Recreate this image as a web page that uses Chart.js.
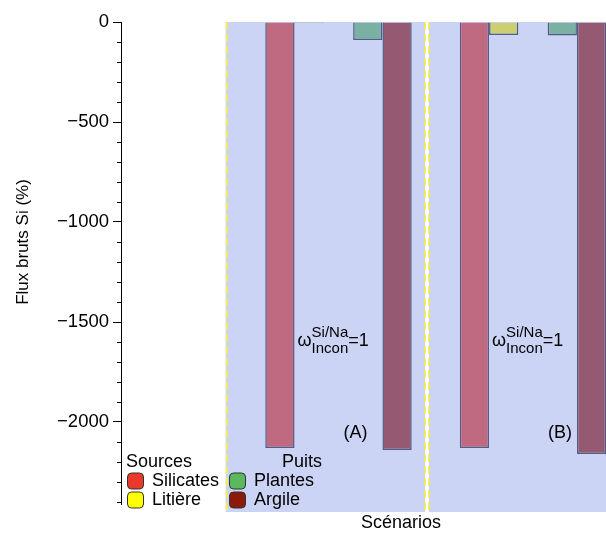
<!DOCTYPE html>
<html>
<head>
<meta charset="utf-8">
<script src="https://cdn.jsdelivr.net/npm/chart.js@4.4.1/dist/chart.umd.min.js"></script>
<style>
  html, body { margin: 0; padding: 0; background: #fff; overflow: hidden; }
  #wrap { width: 681px; height: 538px; }
</style>
</head>
<body>
<div id="wrap"><canvas id="myChart" width="681" height="538"></canvas></div>
<script>
// Flux bruts Si par source, scénarios (A) et (B)
const scenarios = ["(A)", "(B)"];
const scenarioPos = [1, 2];
const silicates = [-2130, -2130];
const litiere = [-5, -65];
const vide = [null, null]; // case vide entre Litière et Plantes
const plantes = [-90, -68];
const argile = [-2140, -2160];
const yLabels = [0, -500, -1000, -1500, -2000];
const yTicks = Array.from({ length: 25 }, (_, i) => -100 * i); // graduations tous les 100
const panelEdges = [0.42, 1.455];

const FONT = "'Liberation Sans', Arial, Helvetica, sans-serif";
const ctx = document.getElementById("myChart").getContext("2d");

const toPoints = (vals) => scenarioPos.map((x, i) => ({ x: x, y: vals[i] }));
const isMajor = (v) => yLabels.some((l) => Math.abs(l - v) < 1e-6);

const bar = (label, vals, color) => ({
  label,
  data: toPoints(vals),
  backgroundColor: color,
  borderColor: "#555c86",
  borderWidth: 1.5,
});

// fonds, lignes pointillées, textes et légende
const decor = {
  id: "decor",
  beforeDatasetsDraw(chart) {
    const c = chart.ctx;
    const x = chart.scales.x;
    const y = chart.scales.y;
    const top = y.getPixelForValue(0);
    const bottom = y.getPixelForValue(-2450);
    const x0 = x.getPixelForValue(panelEdges[0]);
    const x1 = x.getPixelForValue(panelEdges[1]);
    c.save();
    c.fillStyle = "#cbd4f4";
    c.fillRect(x0, top, chart.width - x0, bottom - top);
    // premier séparateur
    c.strokeStyle = "#f2ec5a";
    c.lineWidth = 2;
    c.setLineDash([8, 4]);
    c.beginPath();
    c.moveTo(x0 + 1, top);
    c.lineTo(x0 + 1, bottom);
    c.stroke();
    // second séparateur : blanc + jaune
    c.setLineDash([]);
    c.strokeStyle = "#ffffff";
    c.lineWidth = 4;
    c.beginPath();
    c.moveTo(x1, top);
    c.lineTo(x1, bottom);
    c.stroke();
    c.strokeStyle = "#f2ec3a";
    c.lineWidth = 1.5;
    c.setLineDash([8, 4]);
    [x1 - 2, x1 + 2].forEach((px) => {
      c.beginPath();
      c.moveTo(px, top);
      c.lineTo(px, bottom);
      c.stroke();
    });
    c.restore();
  },
  afterDraw(chart) {
    const c = chart.ctx;
    const x = chart.scales.x;
    const y = chart.scales.y;
    c.save();
    // petites graduations
    c.strokeStyle = "#000";
    c.lineWidth = 1;
    y.ticks.forEach((t) => {
      if (isMajor(t.value)) return;
      const py = Math.round(y.getPixelForValue(t.value)) + 0.5;
      c.beginPath();
      c.moveTo(y.right - 4, py);
      c.lineTo(y.right, py);
      c.stroke();
    });

    c.fillStyle = "#000";
    // titre de l'axe vertical
    c.save();
    c.translate(23, y.getPixelForValue(-1100));
    c.rotate(-Math.PI / 2);
    c.font = "17px " + FONT;
    c.textAlign = "center";
    c.textBaseline = "middle";
    c.fillText("Flux bruts Si (%)", 0, 0);
    c.restore();

    // ω Si/Na Incon = 1
    scenarioPos.forEach((p, i) => {
      const px = x.getPixelForValue(p) - 41;
      const py = y.getPixelForValue(-1620);
      c.textAlign = "left";
      c.textBaseline = "alphabetic";
      c.font = "18px " + FONT;
      c.fillText("ω", px, py);
      const w = c.measureText("ω").width;
      c.font = "15px " + FONT;
      c.fillText("Si/Na", px + w, py - 9);
      c.fillText("Incon", px + w, py + 6.5);
      const w2 = Math.max(c.measureText("Si/Na").width, c.measureText("Incon").width);
      c.font = "18px " + FONT;
      c.fillText("=1", px + w + w2, py);
      // (A), (B)
      c.textBaseline = "middle";
      c.fillText(scenarios[i], x.getPixelForValue(p) + [5, 15][i], y.getPixelForValue(-2055));
    });

    // légende
    c.font = "18px " + FONT;
    c.textBaseline = "middle";
    c.fillText("Sources", 126, 462);
    c.fillText("Puits", 282, 462);
    const items = [
      ["Silicates", "#e8392a", 127, 481],
      ["Litière", "#ffff00", 127, 500],
      ["Plantes", "#5cb85c", 229, 481],
      ["Argile", "#8c1a0a", 229, 500],
    ];
    items.forEach(([txt, col, lx, ly]) => {
      c.beginPath();
      c.roundRect(lx + 0.5, ly - 8, 16, 16, 4);
      c.fillStyle = col;
      c.fill();
      c.strokeStyle = "#333";
      c.lineWidth = 1;
      c.stroke();
      c.fillStyle = "#000";
      c.fillText(txt, lx + 25, ly);
    });
    c.restore();
  },
};

const config = {
  type: "bar",
  data: {
    datasets: [
      bar("Silicates", silicates, "#c06a82"),
      bar("Litière", litiere, "#cbcf72"),
      bar("", vide, "rgba(0,0,0,0)"),
      bar("Plantes", plantes, "#7ab1a3"),
      bar("Argile", argile, "#955a72"),
    ],
  },
  options: {
    responsive: false,
    animation: false,
    events: [],
    categoryPercentage: 0.753,
    barPercentage: 1,
    layout: { padding: { top: 22, left: 0, right: 0, bottom: 0 } },
    plugins: { legend: { display: false }, tooltip: { enabled: false } },
    scales: {
      x: {
        type: "linear",
        offset: false,
        min: -0.1183,
        max: 2.761,
        grid: { display: false },
        border: { display: false },
        ticks: { display: false },
        afterBuildTicks: (scale) => {
          scale.ticks = scenarioPos.map((v) => ({ value: v }));
        },
        title: {
          display: true,
          text: "Scénarios",
          color: "#000",
          font: { family: FONT, size: 18 },
          padding: { top: 0, bottom: 4 },
        },
        afterFit: (scale) => { scale.height = 34; },
      },
      y: {
        min: -2410,
        max: 0,
        border: { display: true, color: "#000", width: 1 },
        grid: {
          drawOnChartArea: false,
          tickLength: 8,
          tickColor: (c) => (c.tick && isMajor(c.tick.value) ? "#000" : "rgba(0,0,0,0)"),
        },
        afterBuildTicks: (scale) => {
          scale.ticks = yTicks.map((v) => ({ value: v }));
        },
        ticks: {
          autoSkip: false,
          padding: 4,
          color: "#000",
          font: { family: FONT, size: 18.5 },
          callback: (v) => {
            if (!isMajor(v)) return "";
            const r = Math.round(v);
            return r < 0 ? "\u2212" + Math.abs(r) : "0";
          },
        },
        afterFit: (scale) => { scale.width = 121; },
      },
    },
  },
  plugins: [decor],
};

const myChart = new Chart(ctx, config);
</script>
</body>
</html>
